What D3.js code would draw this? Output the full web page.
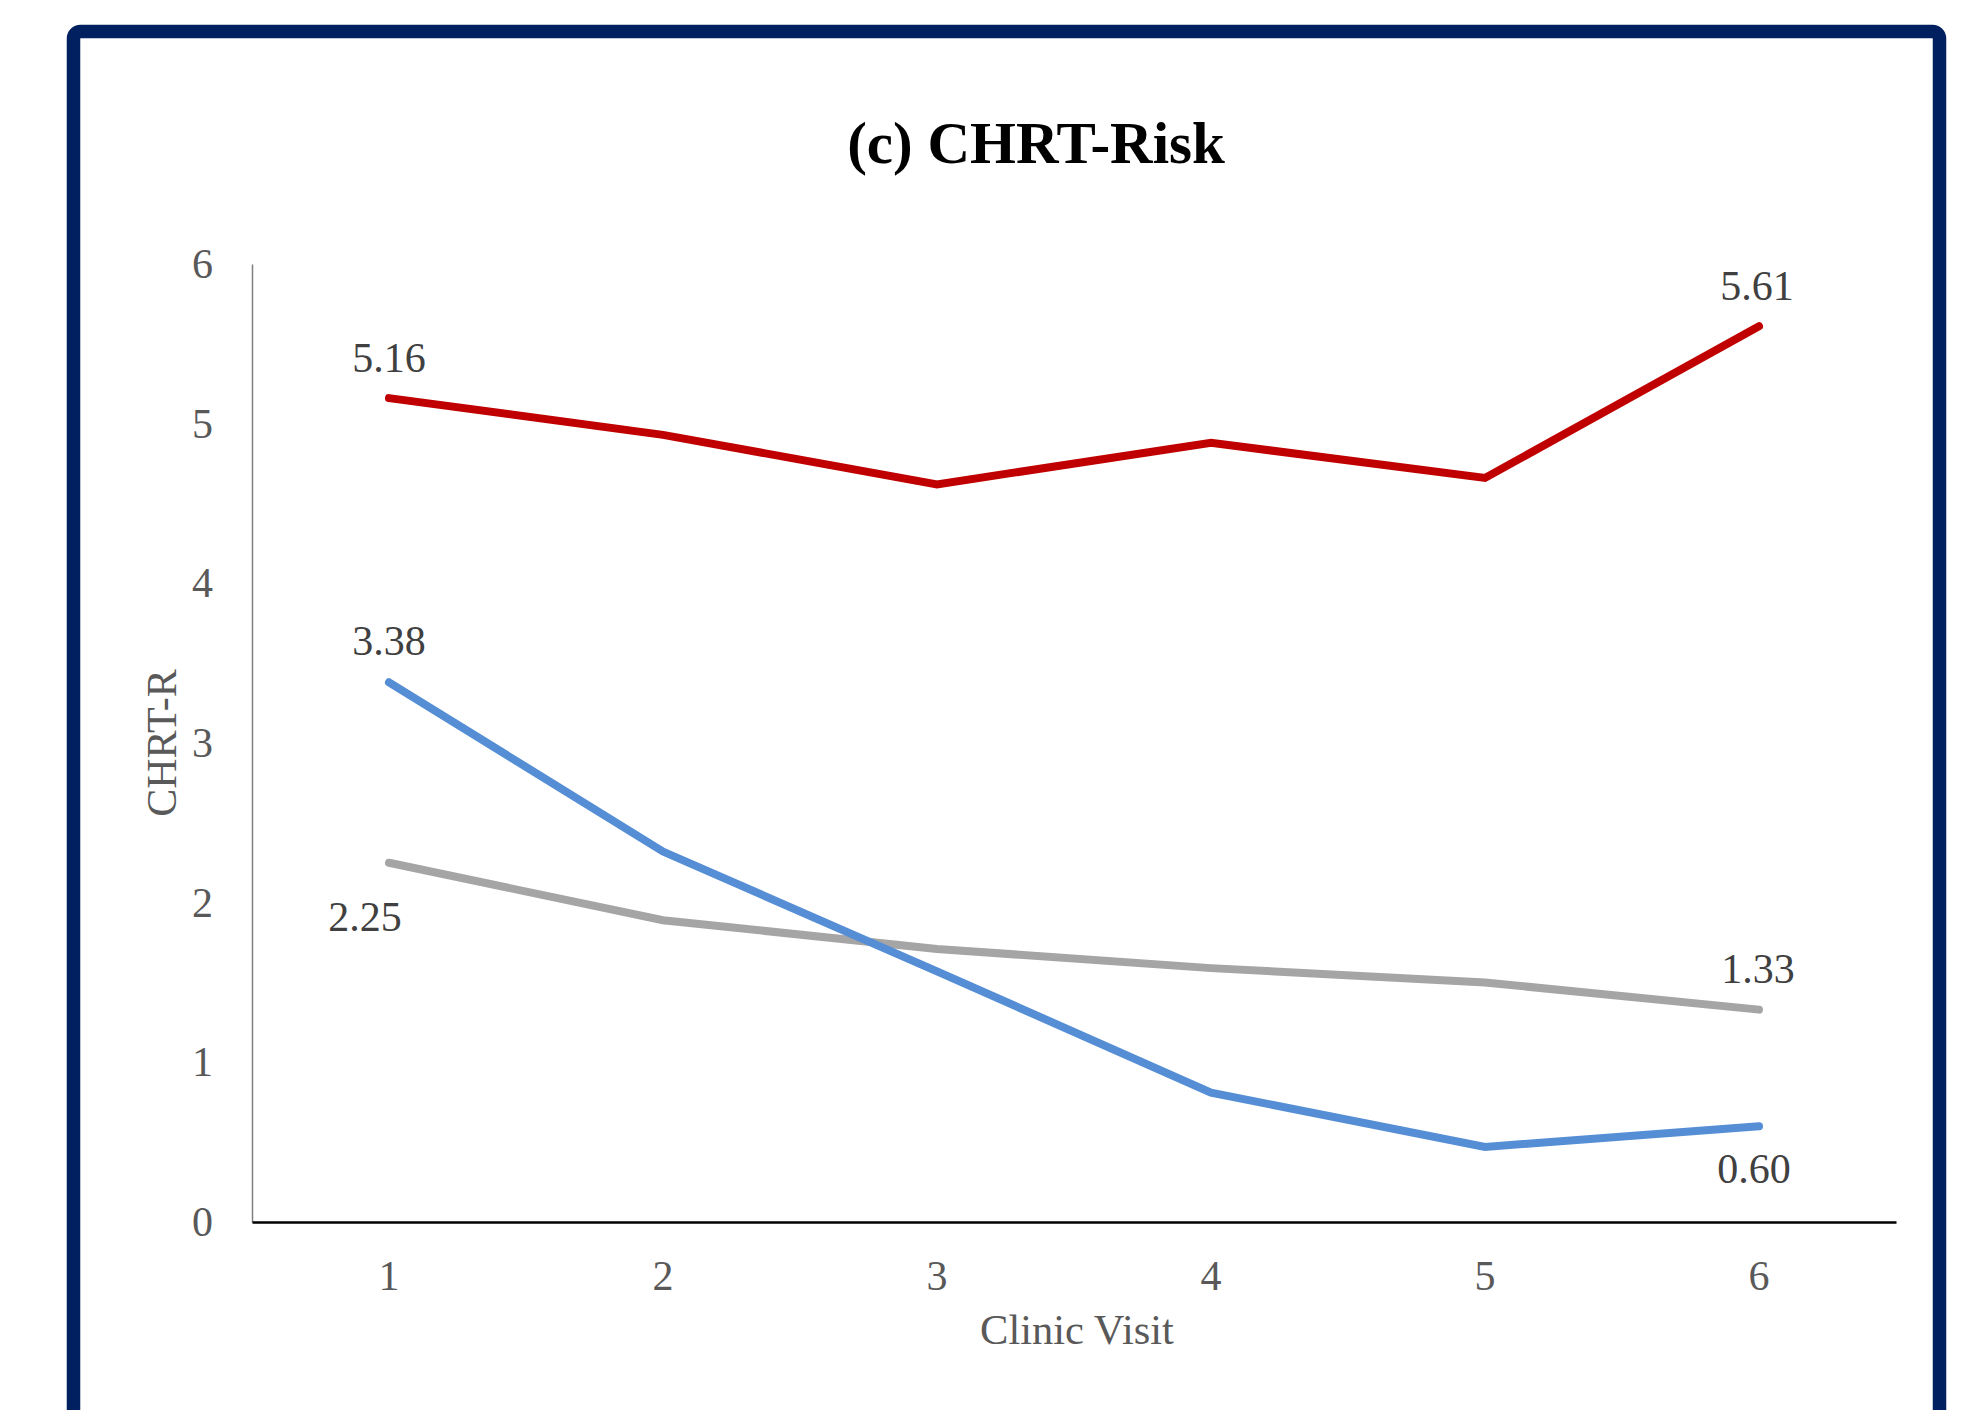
<!DOCTYPE html>
<html>
<head>
<meta charset="utf-8">
<script src="https://cdn.jsdelivr.net/npm/d3@7"></script>
<style>
  html, body { margin: 0; padding: 0; background: #fff; }
  svg { display: block; }
</style>
</head>
<body>
<svg id="chart" width="1975" height="1410"></svg>
<script>
// Clinic visits along the x axis
const visits = ["1", "2", "3", "4", "5", "6"];
// Y axis tick values
const yTicks = [0, 1, 2, 3, 4, 5, 6];

// CHRT-R mean scores per visit, one array per group
const highRisk = [5.16, 4.93, 4.62, 4.88, 4.66, 5.61];
const improving = [3.38, 2.32, 1.57, 0.81, 0.47, 0.60];
const lowRisk = [2.25, 1.89, 1.71, 1.59, 1.50, 1.33];

const series = [
  { name: "high", values: highRisk, color: "#C00000" },
  { name: "low", values: lowRisk, color: "#A5A5A5" },
  { name: "improving", values: improving, color: "#558ED5" }
];

const svg = d3.select("#chart");

// Outer navy frame (open at the bottom edge of the page)
svg.append("rect")
  .attr("x", 73.5).attr("y", 31.5)
  .attr("width", 1866).attr("height", 1440)
  .attr("rx", 7).attr("ry", 7)
  .attr("fill", "#fff")
  .attr("stroke", "#002060")
  .attr("stroke-width", 13.5);

const plotLeft = 252, plotRight = 1896, plotTop = 264, plotBottom = 1222;

const x = d3.scaleBand().domain(visits).range([plotLeft, plotRight]);
const y = d3.scaleLinear().domain([0, 6]).range([plotBottom, plotTop]);
const cx = v => x(v) + x.bandwidth() / 2;

const serif = "'Liberation Serif', 'Times New Roman', serif";

// Title
svg.append("text")
  .attr("x", 1036).attr("y", 163)
  .attr("text-anchor", "middle")
  .attr("font-family", serif)
  .attr("font-weight", "bold")
  .attr("font-size", 59)
  .attr("fill", "#000")
  .text("(c) CHRT-Risk");

// Y axis
const yAxis = svg.append("g")
  .attr("transform", `translate(${plotLeft},0)`)
  .call(d3.axisLeft(y).tickValues(yTicks).tickSize(0).tickPadding(39).tickFormat(d3.format("d")));
yAxis.select(".domain").attr("stroke", "#7F7F7F").attr("stroke-width", 1.5);
yAxis.selectAll("text")
  .attr("font-family", serif)
  .attr("font-size", 42)
  .attr("fill", "#595959");

// X axis
const xAxis = svg.append("g")
  .attr("transform", `translate(0,${plotBottom})`)
  .call(d3.axisBottom(x).tickSize(0).tickPadding(38));
xAxis.select(".domain").attr("stroke", "#000").attr("stroke-width", 2.5);
xAxis.selectAll("text")
  .attr("font-family", serif)
  .attr("font-size", 42)
  .attr("fill", "#595959");

// Axis titles
svg.append("text")
  .attr("transform", `translate(176,${(plotTop + plotBottom) / 2}) rotate(-90)`)
  .attr("text-anchor", "middle")
  .attr("font-family", serif)
  .attr("font-size", 42)
  .attr("fill", "#595959")
  .text("CHRT-R");

svg.append("text")
  .attr("x", (plotLeft + plotRight) / 2 + 3).attr("y", 1344)
  .attr("text-anchor", "middle")
  .attr("font-family", serif)
  .attr("font-size", 42.5)
  .attr("fill", "#595959")
  .text("Clinic Visit");

// Lines
const line = d3.line()
  .x((d, i) => cx(visits[i]))
  .y(d => y(d));

svg.append("g").selectAll("path")
  .data(series)
  .join("path")
  .attr("d", s => line(s.values))
  .attr("fill", "none")
  .attr("stroke", s => s.color)
  .attr("stroke-width", 8)
  .attr("stroke-linecap", "round")
  .attr("stroke-linejoin", "miter");

// Value labels at the first and last visits (offsets: dx, baseline dy)
const labelOffsets = {
  high: [[0, -26], [-2, -26]],
  improving: [[0, -27], [-5, 57]],
  low: [[-24, 68], [-1, -27]]
};

const labels = [];
series.forEach(s => {
  [0, visits.length - 1].forEach((idx, k) => {
    labels.push({
      v: s.values[idx],
      px: cx(visits[idx]),
      py: y(s.values[idx]),
      off: labelOffsets[s.name][k]
    });
  });
});

svg.append("g").selectAll("text")
  .data(labels)
  .join("text")
  .attr("x", d => d.px + d.off[0])
  .attr("y", d => d.py + d.off[1])
  .attr("text-anchor", "middle")
  .attr("font-family", serif)
  .attr("font-size", 42)
  .attr("fill", "#404040")
  .text(d => d3.format(".2f")(d.v));
</script>
</body>
</html>
